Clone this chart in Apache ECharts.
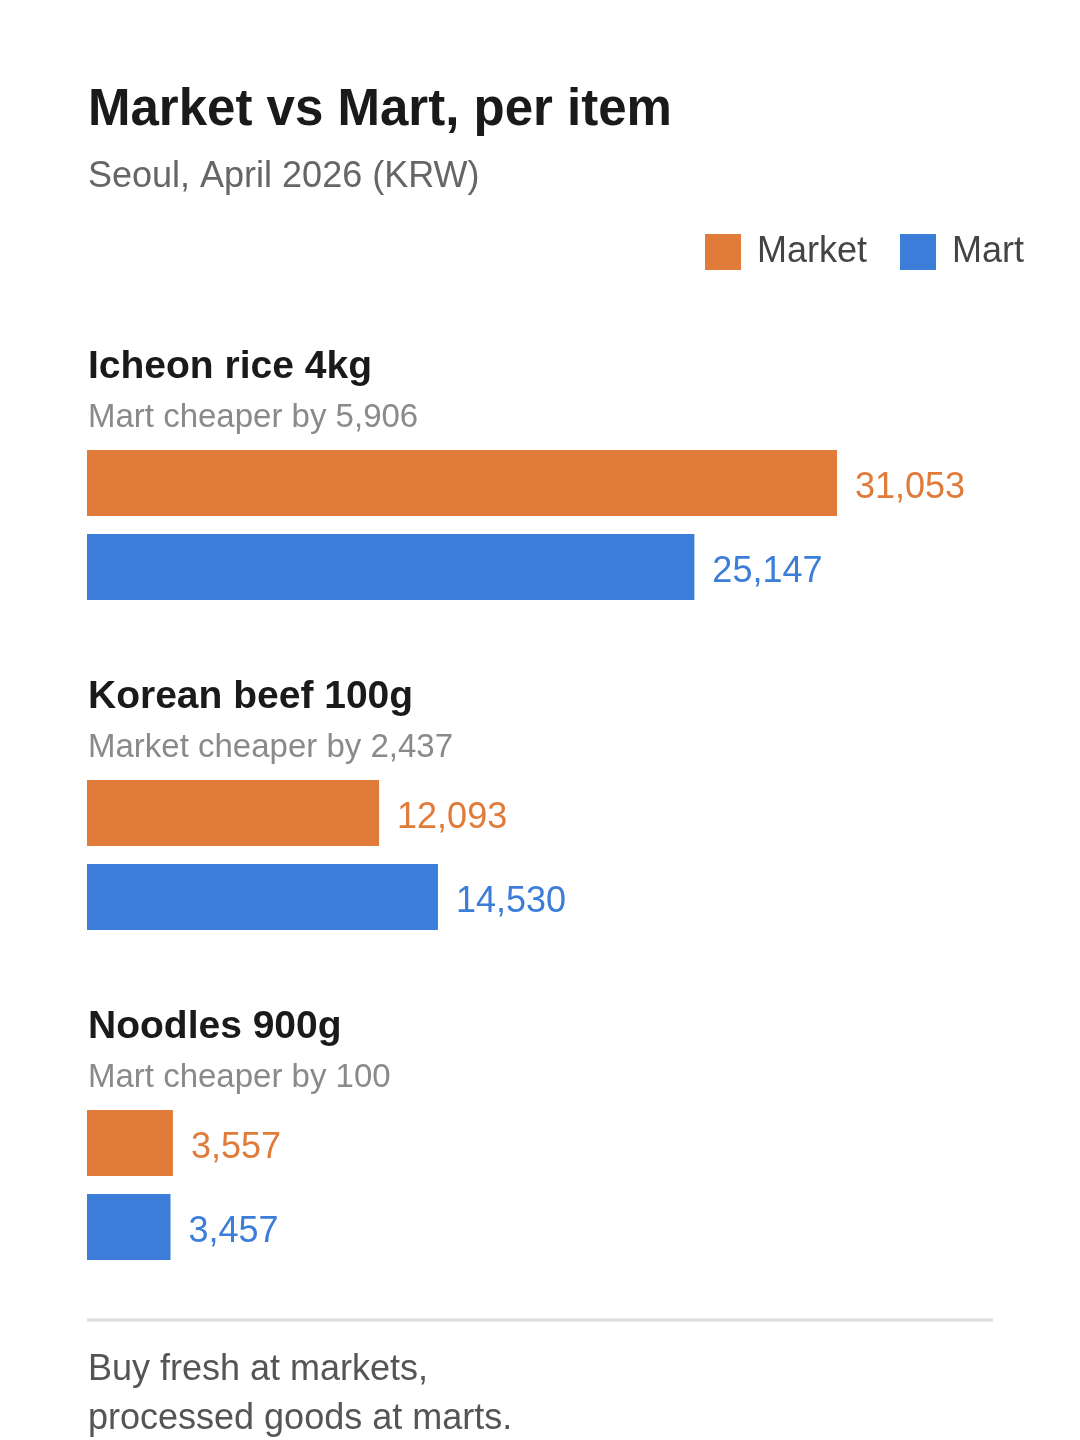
<!DOCTYPE html>
<html>
<head>
<meta charset="utf-8">
<script src="https://cdn.jsdelivr.net/npm/echarts@6/dist/echarts.min.js"></script>
<style>
html,body{margin:0;padding:0;background:#fff;}
#chart{width:1080px;height:1440px;}
</style>
</head>
<body>
<div id="chart"></div>
<script>
// ---- data ----
var items = ['Icheon rice 4kg', 'Korean beef 100g', 'Noodles 900g'];
var marketPrices = [31053, 12093, 3557];
var martPrices = [25147, 14530, 3457];
var seriesNames = ['Market', 'Mart'];
var titleText = 'Market vs Mart, per item';
var subtitleText = 'Seoul, April 2026 (KRW)';
var footerText = 'Buy fresh at markets,\nprocessed goods at marts.';

// ---- style ----
var FONT = '"Liberation Sans", Arial, sans-serif';
var ORANGE = '#E07B3A';
var BLUE = '#3B7DD8';
var GROUP_STEP = 330;

function fmt(v) { return v.toLocaleString('en-US'); }

var maxVal = Math.max.apply(null, marketPrices.concat(martPrices));

var titles = [
  { text: titleText, left: 88, top: 85, padding: 0,
    textStyle: { fontFamily: FONT, fontSize: 51, fontWeight: 'bold', color: '#1a1a1a' } },
  { text: subtitleText, left: 88, top: 159, padding: 0,
    textStyle: { fontFamily: FONT, fontSize: 36, fontWeight: 'normal', color: '#666666' } },
  { text: footerText, left: 88, top: 1346, padding: 0,
    textStyle: { fontFamily: FONT, fontSize: 36, fontWeight: 'normal', color: '#555555', lineHeight: 49 } }
];

var grids = [], xAxes = [], yAxes = [], series = [];
items.forEach(function (name, i) {
  var off = i * GROUP_STEP;
  var diff = marketPrices[i] - martPrices[i];
  var note = (diff > 0 ? 'Mart' : 'Market') + ' cheaper by ' + fmt(Math.abs(diff));
  titles.push({ text: name, left: 88, top: 348 + off, padding: 0,
    textStyle: { fontFamily: FONT, fontSize: 39, fontWeight: 'bold', color: '#1a1a1a' } });
  titles.push({ text: note, left: 88, top: 401 + off, padding: 0,
    textStyle: { fontFamily: FONT, fontSize: 33, fontWeight: 'normal', color: '#8a8a8a' } });

  grids.push({ left: 87, width: 750, top: 441 + off, height: 168, containLabel: false });
  xAxes.push({ type: 'value', gridIndex: i, min: 0, max: maxVal, show: false,
    splitLine: { show: false } });
  yAxes.push({ type: 'category', gridIndex: i, data: seriesNames, inverse: true, show: false });

  var colors = [ORANGE, BLUE];
  [marketPrices[i], martPrices[i]].forEach(function (v, k) {
    var d = k === 0 ? [v, '-'] : ['-', v];
    series.push({
      type: 'bar', name: seriesNames[k], xAxisIndex: i, yAxisIndex: i,
      data: d, barWidth: 66, barGap: '-100%',
      itemStyle: { color: colors[k] },
      silent: true, animation: false,
      label: { show: true, position: 'right', distance: 18, offset: [0, 5],
        formatter: function (p) { return fmt(p.value); },
        fontFamily: FONT, fontSize: 36, color: colors[k] }
    });
  });
});

var chart = echarts.init(document.getElementById('chart'), null, { renderer: 'canvas' });
chart.setOption({
  backgroundColor: '#ffffff',
  animation: false,
  title: titles,
  legend: {
    data: seriesNames, left: 705, top: 234, padding: 0, itemWidth: 36, itemHeight: 36, itemGap: 33,
    icon: 'rect', selectedMode: false,
    textStyle: { fontFamily: FONT, fontSize: 36, color: '#444444', padding: [4, 0, 0, 11] }
  },
  grid: grids,
  xAxis: xAxes,
  yAxis: yAxes,
  series: series,
  graphic: [{
    type: 'line', silent: true,
    shape: { x1: 87, y1: 1320, x2: 993, y2: 1320 },
    style: { stroke: '#dddddd', lineWidth: 3 }
  }]
});
</script>
</body>
</html>
